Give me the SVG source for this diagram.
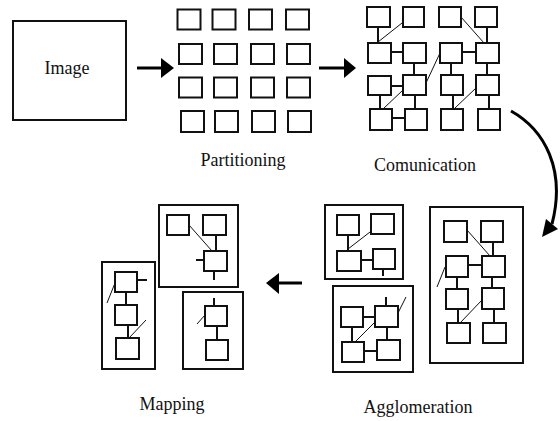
<svg xmlns="http://www.w3.org/2000/svg" width="560" height="421" viewBox="0 0 560 421">
<style>
rect{fill:none;stroke:#111;stroke-width:2}
.bg{fill:#fff;stroke:none}
.c line{stroke:#111;stroke-width:2}
.c line.d{stroke-width:1}
.lbl{font-family:"Liberation Serif","Times New Roman",serif;font-size:18px;fill:#111;text-anchor:middle}
.arr{stroke:#000;stroke-width:3;fill:none}
.head{fill:#000}
</style>
<rect class="bg" x="0" y="0" width="560" height="421"/>

<g id="image">
<rect x="13" y="21" width="113" height="99"/>
<text class="lbl" x="67" y="74">Image</text>
</g>

<g id="partitioning">
<rect x="177.5" y="9.5" width="23" height="20"/><rect x="212.5" y="9.5" width="23" height="20"/><rect x="249" y="9.5" width="23" height="20"/><rect x="286" y="9.5" width="23" height="20"/>
<rect x="179" y="44" width="23" height="20"/><rect x="214" y="44" width="23" height="20"/><rect x="251" y="44" width="23" height="20"/><rect x="287" y="44" width="23" height="20"/>
<rect x="179" y="77.5" width="23" height="20"/><rect x="214" y="77.5" width="23" height="20"/><rect x="251" y="77.5" width="23" height="20"/><rect x="287" y="77.5" width="23" height="20"/>
<rect x="181" y="111" width="23" height="21"/><rect x="215" y="111" width="23" height="21"/><rect x="252" y="111" width="23" height="21"/><rect x="288" y="111" width="23" height="21"/>
<text class="lbl" x="243" y="166">Partitioning</text>
</g>

<g id="communication">
<rect x="367" y="7" width="23" height="20"/><rect x="403" y="7" width="21" height="20"/><rect x="439" y="7" width="22" height="20"/><rect x="475" y="7" width="22" height="20"/>
<rect x="368" y="43" width="23" height="20"/><rect x="403" y="43" width="23" height="20"/><rect x="440" y="43" width="22" height="20"/><rect x="476" y="43" width="23" height="20"/>
<rect x="368" y="76" width="23" height="19"/><rect x="403" y="75" width="23" height="20"/><rect x="441" y="75" width="22" height="20"/><rect x="476" y="75" width="23" height="20"/>
<rect x="370" y="109" width="22" height="21"/><rect x="405" y="109" width="22" height="21"/><rect x="441" y="109" width="22" height="21"/><rect x="478" y="109" width="22" height="21"/>
<g class="c">
<line x1="378" y1="27" x2="378" y2="43"/>
<line class="d" x1="378" y1="42" x2="402" y2="23"/>
<line x1="391" y1="52" x2="403" y2="52"/>
<line x1="414" y1="63" x2="414" y2="75"/>
<line class="d" x1="461" y1="17" x2="484" y2="43"/>
<line x1="487" y1="27" x2="487" y2="43"/>
<line x1="462" y1="52" x2="476" y2="52"/>
<line x1="451" y1="63" x2="451" y2="75"/>
<line x1="487" y1="63" x2="487" y2="75"/>
<line class="d" x1="426" y1="83" x2="440" y2="53"/>
<line x1="391" y1="86" x2="403" y2="86"/>
<line x1="380" y1="95" x2="380" y2="109"/>
<line class="d" x1="383" y1="109" x2="403" y2="90"/>
<line x1="415" y1="95" x2="415" y2="109"/>
<line x1="392" y1="118" x2="405" y2="118"/>
<line x1="453" y1="95" x2="453" y2="109"/>
<line class="d" x1="455" y1="108" x2="477" y2="87"/>
<line x1="489" y1="95" x2="489" y2="109"/>
</g>
<text class="lbl" x="425" y="171">Comunication</text>
</g>

<g id="agglomeration">
<rect x="325" y="205" width="78" height="74"/>
<rect x="337" y="215" width="22" height="20"/><rect x="371" y="214" width="23" height="20"/><rect x="337" y="251" width="24" height="20"/><rect x="373" y="249" width="22" height="20"/>
<g class="c">
<line x1="348" y1="235" x2="348" y2="251"/>
<line class="d" x1="348" y1="249" x2="370" y2="232"/>
<line x1="361" y1="260" x2="373" y2="260"/>
<line x1="383" y1="269" x2="383" y2="276"/>
</g>
<rect x="333" y="286" width="80" height="86"/>
<rect x="341" y="307" width="22" height="20"/><rect x="375" y="306" width="23" height="21"/><rect x="342" y="342" width="22" height="20"/><rect x="377" y="340" width="23" height="20"/>
<g class="c">
<line x1="363" y1="317" x2="375" y2="317"/>
<line x1="352" y1="327" x2="352" y2="342"/>
<line x1="386" y1="297" x2="386" y2="306"/>
<line class="d" x1="355" y1="342" x2="375" y2="322"/>
<line x1="387" y1="327" x2="387" y2="340"/>
<line x1="364" y1="351" x2="377" y2="351"/>
<line class="d" x1="398" y1="313" x2="406" y2="297"/>
</g>
<rect x="430" y="207" width="93" height="156"/>
<rect x="444" y="221" width="23" height="21"/><rect x="481" y="221" width="22" height="21"/>
<rect x="446" y="256" width="22" height="21"/><rect x="482" y="256" width="23" height="21"/>
<rect x="446" y="289" width="22" height="20"/><rect x="482" y="288" width="22" height="21"/>
<rect x="447" y="323" width="23" height="20"/><rect x="483" y="323" width="23" height="20"/>
<g class="c">
<line class="d" x1="467" y1="230" x2="490" y2="256"/>
<line x1="493" y1="242" x2="493" y2="256"/>
<line x1="468" y1="265" x2="482" y2="265"/>
<line class="d" x1="445" y1="267" x2="437" y2="287"/>
<line x1="457" y1="277" x2="457" y2="289"/>
<line x1="492" y1="277" x2="492" y2="288"/>
<line x1="458" y1="309" x2="458" y2="323"/>
<line class="d" x1="460" y1="323" x2="482" y2="300"/>
<line x1="494" y1="309" x2="494" y2="323"/>
</g>
<text class="lbl" x="418" y="413">Agglomeration</text>
</g>

<g id="mapping">
<rect x="159" y="205" width="79" height="82"/>
<rect x="167" y="215" width="22" height="20"/><rect x="203" y="215" width="23" height="20"/><rect x="204" y="251" width="23" height="20"/>
<g class="c">
<line class="d" x1="189" y1="225" x2="212" y2="251"/>
<line x1="216" y1="235" x2="216" y2="251"/>
<line x1="196" y1="260" x2="204" y2="260"/>
<line x1="214" y1="271" x2="214" y2="280"/>
</g>
<rect x="102" y="262" width="53" height="107"/>
<rect x="115" y="272" width="22" height="20"/><rect x="115" y="305" width="22" height="20"/><rect x="116" y="338" width="23" height="21"/>
<g class="c">
<line x1="137" y1="280" x2="147" y2="280"/>
<line class="d" x1="115" y1="283" x2="107" y2="303"/>
<line x1="126" y1="292" x2="126" y2="305"/>
<line x1="128" y1="325" x2="128" y2="338"/>
<line class="d" x1="129" y1="338" x2="146" y2="320"/>
</g>
<rect x="183" y="292" width="60" height="77"/>
<rect x="205" y="306" width="22" height="20"/><rect x="206" y="340" width="22" height="20"/>
<g class="c">
<line x1="214" y1="298" x2="214" y2="306"/>
<line class="d" x1="205" y1="315" x2="197" y2="324"/>
<line x1="217" y1="326" x2="217" y2="340"/>
</g>
<text class="lbl" x="172" y="410">Mapping</text>
</g>

<g id="connectors">
<line class="arr" x1="137" y1="68" x2="163" y2="68"/>
<polygon class="head" points="161,58 174,68 161,78"/>
<line class="arr" x1="319" y1="68" x2="345" y2="68"/>
<polygon class="head" points="344,58 356,68 344,78"/>
<path class="arr" d="M511,111 C545,130 566,170 552,224"/>
<polygon class="head" points="542,237 546,219 558,229"/>
<line class="arr" x1="302" y1="283" x2="277" y2="283"/>
<polygon class="head" points="266,283 279,273 279,294"/>
</g>
</svg>
